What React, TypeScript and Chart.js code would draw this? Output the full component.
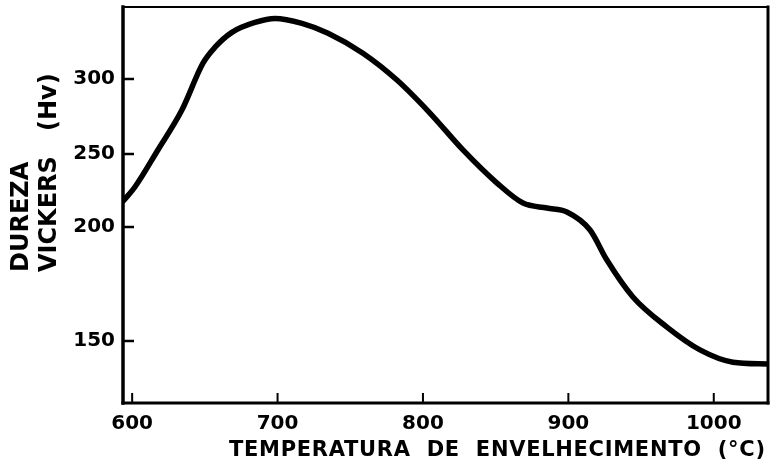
import React, { useEffect, useRef } from 'react';
import { Chart, registerables, LinearScale } from 'chart.js';

// ---- data ----
const temperatures = [594, 601.9, 617.7, 634.2, 648.7, 657.0, 668.6, 684.5, 698.2, 716.8, 734.7, 758.7, 782.1, 804.8, 827.5, 850.9, 868.8, 885.3, 899.0, 914.9, 926.5, 944.4, 967.8, 990.5, 1013.2, 1037.3];
const hardness = [218, 227.4, 252.7, 279.3, 310.6, 321.2, 331.1, 337.7, 340.4, 337.1, 330.5, 317.2, 299.3, 277.3, 252.7, 230.1, 216.4, 213, 210.3, 198.7, 185.5, 169.3, 156.1, 146.1, 140.7, 139.9];

const xTicks = [600, 700, 800, 900, 1000];
const yTicks = [150, 200, 250, 300];
const xRange = [593.7, 1037.3];

// The printed hardness axis is not uniform: values at its breaks and the relative length of each segment
const yAxisBreaks = [122.8, 150, 200, 250, 300, 348];
const yAxisSegmentWeights = [62, 114, 73, 75, 72];

const xTitle = 'TEMPERATURA  DE  ENVELHECIMENTO  (°C)';
const yTitleLines = ['DUREZA', 'VICKERS   (Hv)'];

// ---- piecewise (printed) scale ----
const totalWeight = yAxisSegmentWeights.reduce((a, b) => a + b, 0);
const breakDecimals: number[] = [0];
yAxisSegmentWeights.reduce((acc, w) => {
  const n = acc + w;
  breakDecimals.push(n / totalWeight);
  return n;
}, 0);

function valueToDecimal(v: number): number {
  const b = yAxisBreaks;
  let i = 0;
  if (v <= b[0]) i = 0;
  else if (v >= b[b.length - 1]) i = b.length - 2;
  else {
    while (i < b.length - 2 && v > b[i + 1]) i++;
  }
  const t = (v - b[i]) / (b[i + 1] - b[i]);
  return breakDecimals[i] + t * (breakDecimals[i + 1] - breakDecimals[i]);
}
function decimalToValue(d: number): number {
  const k = breakDecimals;
  let i = 0;
  while (i < k.length - 2 && d > k[i + 1]) i++;
  const t = (d - k[i]) / (k[i + 1] - k[i]);
  return yAxisBreaks[i] + t * (yAxisBreaks[i + 1] - yAxisBreaks[i]);
}

class PrintedAxisScale extends LinearScale {
  static id = 'printedAxis';
  static defaults = (LinearScale as any).defaults;
  getPixelForValue(value: any) {
    if (value === null || value === undefined || isNaN(value)) return NaN;
    return (this as any).getPixelForDecimal(valueToDecimal(value));
  }
  getValueForPixel(pixel: number) {
    return decimalToValue((this as any).getDecimalForPixel(pixel));
  }
}

Chart.register(...registerables, PrintedAxisScale as any);

const TICK_FONT = 'DejaVu Sans';

const zeroPad = (s: any) => {
  s.paddingTop = 0;
  s.paddingBottom = 0;
  s.paddingLeft = 0;
  s.paddingRight = 0;
};

const framePlugin = {
  id: 'framePlugin',
  beforeDraw(chart: any) {
    const ctx = chart.ctx;
    ctx.save();
    ctx.fillStyle = '#fff';
    ctx.fillRect(0, 0, chart.width, chart.height);
    ctx.restore();
    ctx.letterSpacing = '0px';
  },
  afterDraw(chart: any) {
    const ctx = chart.ctx;
    ctx.letterSpacing = '0px';
    const { left, right, top, bottom } = chart.chartArea;
    ctx.save();
    ctx.strokeStyle = '#000';
    ctx.lineCap = 'square';
    const line = (x1: number, y1: number, x2: number, y2: number, w: number) => {
      ctx.lineWidth = w;
      ctx.beginPath();
      ctx.moveTo(x1, y1);
      ctx.lineTo(x2, y2);
      ctx.stroke();
    };
    line(left, top, left, bottom, 3.5);
    line(left, bottom, right, bottom, 3);
    line(left, top, right, top, 2);
    line(right, top, right, bottom, 3);

    ctx.lineCap = 'butt';
    const xs = chart.scales.x;
    const ys = chart.scales.y;
    xTicks.forEach((v) => {
      const px = xs.getPixelForValue(v);
      line(px, bottom, px, bottom - 10, 2);
    });
    yTicks.forEach((v) => {
      const py = ys.getPixelForValue(v);
      line(left, py, left + 11, py, 2.5);
    });

    // x title fitted across its printed span
    ctx.fillStyle = '#000';
    ctx.font = 'bold 21px "DejaVu Sans"';
    ctx.textBaseline = 'middle';
    ctx.textAlign = 'left';
    const startX = 229, endX = 765;
    const w0 = ctx.measureText(xTitle).width;
    const sp = (endX - startX - w0) / (xTitle.length - 1);
    ctx.letterSpacing = sp + 'px';
    ctx.fillText(xTitle, startX, 451);
    ctx.letterSpacing = '0px';

    // y title, rotated, two lines
    ctx.font = 'bold 24px "DejaVu Sans"';
    const ycx = [22, 50];
    yTitleLines.forEach((t, i) => {
      ctx.save();
      ctx.translate(ycx[i], 272);
      ctx.rotate(-Math.PI / 2);
      ctx.textAlign = 'left';
      ctx.textBaseline = 'middle';
      ctx.fillText(t, 0, 0);
      ctx.restore();
    });
    ctx.restore();
  },
};

export default function App() {
  const ref = useRef<HTMLCanvasElement | null>(null);
  useEffect(() => {
    if (!ref.current) return;
    const chart = new Chart(ref.current, {
      type: 'line',
      data: {
        datasets: [
          {
            data: temperatures.map((t, i) => ({ x: t, y: hardness[i] })),
            borderColor: '#000',
            borderWidth: 5.5,
            pointRadius: 0,
            cubicInterpolationMode: 'monotone',
            borderCapStyle: 'round',
            borderJoinStyle: 'round',
            fill: false,
          } as any,
        ],
      },
      options: {
        animation: false,
        responsive: false,
        devicePixelRatio: 1,
        layout: { padding: { left: 0, top: 7, right: 2, bottom: 0 } },
        plugins: { legend: { display: false }, tooltip: { enabled: false }, title: { display: false } },
        scales: {
          x: {
            type: 'linear',
            min: xRange[0],
            max: xRange[1],
            grid: { display: false, drawTicks: false },
            border: { display: false },
            afterBuildTicks: (s: any) => {
              s.ticks = xTicks.map((v) => ({ value: v }));
            },
            afterFit: (s: any) => {
              s.height = 62;
              zeroPad(s);
            },
            ticks: {
              color: '#000',
              padding: 9,
              maxRotation: 0,
              font: { family: TICK_FONT, size: 20, weight: 'bold' },
              callback: (v: any) => String(v),
            },
          },
          y: {
            type: 'printedAxis' as any,
            min: yAxisBreaks[0],
            max: yAxisBreaks[yAxisBreaks.length - 1],
            grid: { display: false, drawTicks: false },
            border: { display: false },
            afterBuildTicks: (s: any) => {
              s.ticks = yTicks.map((v) => ({ value: v }));
            },
            afterFit: (s: any) => {
              s.width = 123;
              zeroPad(s);
            },
            ticks: {
              color: '#000',
              padding: 8,
              font: { family: TICK_FONT, size: 20, weight: 'bold' },
              callback: (v: any) => String(v),
            },
          } as any,
        },
      },
      plugins: [framePlugin],
    });
    return () => chart.destroy();
  }, []);
  return (
    <div style={{ position: 'fixed', left: 0, top: 0, width: 770, height: 465, background: '#fff' }}>
      <canvas ref={ref} width={770} height={465} style={{ display: 'block' }} />
    </div>
  );
}
